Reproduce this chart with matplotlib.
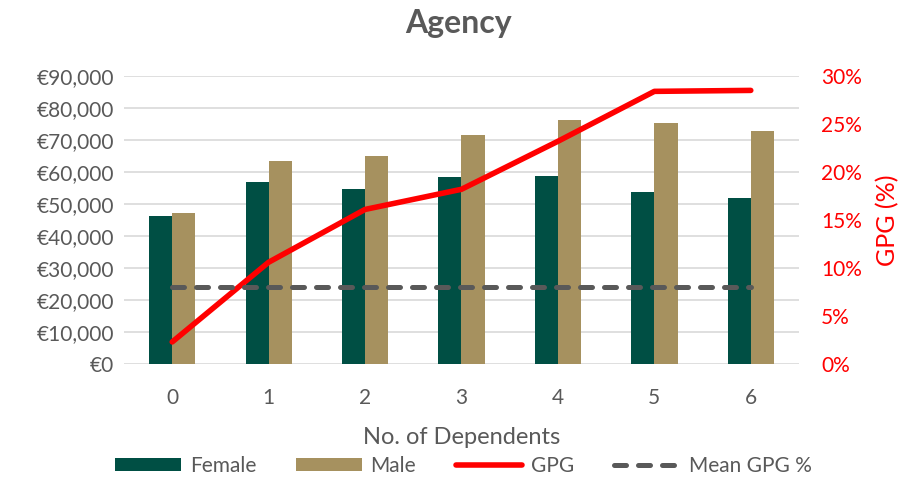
import numpy as np
import matplotlib.pyplot as plt
from matplotlib.ticker import FuncFormatter

plt.rcParams['font.family'] = ['Lato', 'DejaVu Sans']

# data
dependents = ['0', '1', '2', '3', '4', '5', '6']
female = [46250, 56800, 54600, 58400, 58750, 53900, 52000]
male = [47300, 63500, 65100, 71500, 76400, 75400, 72700]
gpg = [2.3, 10.6, 16.1, 18.2, 23.2, 28.4, 28.5]
mean_gpg = [8.0] * 7

grey = '#595959'
fig = plt.figure(figsize=(9.17, 4.8), dpi=100)
ax = fig.add_axes([124 / 917, 1 - 364 / 480, 675 / 917, 288 / 480])
x = np.arange(len(dependents))
w = 0.24
ax.bar(x - w / 2, female, w, color='#004F44', label='Female', zorder=2)
ax.bar(x + w / 2, male, w, color='#A6915F', label='Male', zorder=2)
ax.set_ylim(0, 90000)
ax.set_xlim(-0.5, 6.5)
ax.set_yticks(np.arange(0, 90001, 10000))
ax.yaxis.set_major_formatter(FuncFormatter(lambda v, p: '€{:,.0f}'.format(v)))
ax.grid(axis='y', color='#D9D9D9', lw=1.2, zorder=0)
ax.set_xticks(x)
ax.set_xticklabels(dependents)
ax.tick_params(axis='y', length=0, labelsize=15, colors=grey, pad=7)
ax.tick_params(axis='x', length=0, labelsize=15, colors=grey, pad=17)
for s in ax.spines.values():
    s.set_visible(False)
ax.set_xlabel('No. of Dependents', fontsize=17, color=grey, labelpad=14)

ax2 = ax.twinx()
ax2.plot(x, gpg, color='#FF0000', lw=4, label='GPG', zorder=3, solid_capstyle='round')
ax2.plot(x, mean_gpg, color=grey, lw=3.6, ls=(0, (2.4, 2.4)), label='Mean GPG %',
         dash_capstyle='round', zorder=3)
ax2.set_ylim(0, 30)
ax2.set_yticks(np.arange(0, 31, 5))
ax2.yaxis.set_major_formatter(FuncFormatter(lambda v, p: '{:.0f}%'.format(v)))
ax2.tick_params(length=0, labelsize=15, colors='#FF0000', pad=16)
for s in ax2.spines.values():
    s.set_visible(False)
ax2.set_ylabel('GPG (%)', fontsize=18, color='#FF0000', labelpad=10)

fig.text(0.5, 1 - 23 / 480, 'Agency', ha='center', va='center', fontsize=23,
         fontweight='bold', color=grey)

h1, l1 = ax.get_legend_handles_labels()
h2, l2 = ax2.get_legend_handles_labels()
fig.legend(h1 + h2, l1 + l2, loc='center', bbox_to_anchor=(0.505, 1 - 466 / 480),
           ncol=4, frameon=False, fontsize=15, labelcolor=grey,
           handlelength=3.2, handleheight=0.6, handletextpad=0.4, columnspacing=1.9)

fig.savefig('out.png', dpi=100)
